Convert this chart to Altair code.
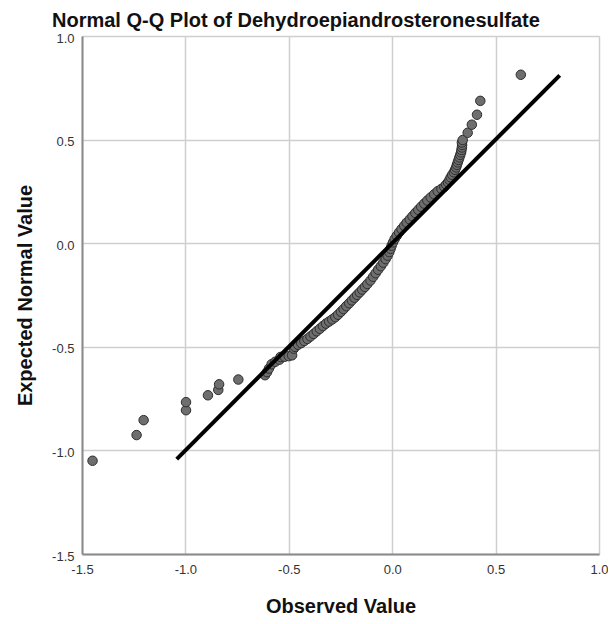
import altair as alt
import pandas as pd

observed = [
    -1.449, -1.236, -1.202, -0.997, -0.997, -0.891, -0.841, -0.837, -0.744,
    -0.615, -0.605, -0.596, -0.583, -0.565, -0.545, -0.540, -0.520, -0.500, -0.484, -0.476,
    -0.470, -0.455, -0.440, -0.425, -0.410, -0.395, -0.380, -0.365, -0.350, -0.335,
    -0.320, -0.305, -0.290, -0.275, -0.262, -0.248, -0.235, -0.222, -0.208, -0.195,
    -0.182, -0.170, -0.157, -0.145, -0.132, -0.120, -0.105, -0.092, -0.080, -0.068,
    -0.055, -0.043, -0.032, -0.022, -0.014, -0.008, -0.003, 0.004,
    0.012, 0.022, 0.033, 0.045, 0.058, 0.070, 0.085, 0.098, 0.112, 0.126,
    0.140, 0.155, 0.170, 0.186, 0.203, 0.220, 0.238, 0.252, 0.261, 0.270,
    0.277, 0.283, 0.290, 0.298, 0.304, 0.309, 0.313, 0.317, 0.321, 0.325,
    0.329, 0.333, 0.335, 0.337, 0.338, 0.337, 0.341, 0.365, 0.385, 0.410,
    0.426, 0.622,
]
expected = [
    -1.050, -0.926, -0.854, -0.806, -0.767, -0.734, -0.708, -0.681, -0.658,
    -0.637, -0.622, -0.605, -0.584, -0.572, -0.562, -0.549, -0.548, -0.545, -0.541, -0.509,
    -0.500, -0.490, -0.482, -0.472, -0.462, -0.450, -0.438, -0.425, -0.413, -0.400,
    -0.388, -0.378, -0.368, -0.357, -0.345, -0.331, -0.318, -0.304, -0.290, -0.276,
    -0.263, -0.250, -0.237, -0.224, -0.211, -0.197, -0.180, -0.162, -0.145, -0.128,
    -0.111, -0.094, -0.077, -0.060, -0.043, -0.027, -0.012, 0.004,
    0.020, 0.036, 0.052, 0.068, 0.084, 0.099, 0.115, 0.130, 0.146, 0.161,
    0.176, 0.191, 0.206, 0.221, 0.236, 0.251, 0.262, 0.272, 0.283, 0.294,
    0.306, 0.318, 0.330, 0.342, 0.354, 0.366, 0.378, 0.390, 0.402, 0.414,
    0.426, 0.438, 0.450, 0.462, 0.474, 0.486, 0.498, 0.533, 0.572, 0.620,
    0.687, 0.813,
]

# Reference line endpoints
line_x = [-1.042, 0.810]
line_y = [-1.042, 0.810]

tick_values = [-1.5, -1.0, -0.5, 0.0, 0.5, 1.0]

pts = pd.DataFrame({"obs": observed, "exp": expected})
ref = pd.DataFrame({"obs": line_x, "exp": line_y})

FONT = "Liberation Sans"
HYPHEN = "replace(datum.label, '\u2212', '-')"

xscale = alt.Scale(domain=[-1.5, 1.0], nice=False, zero=False)
yscale = alt.Scale(domain=[-1.5, 1.0], nice=False, zero=False)

xaxis = alt.Axis(
    title="Observed Value", values=tick_values, format=".1f", labelExpr=HYPHEN,
    titleFontSize=20, titleFontWeight="bold", titleColor="#111111", titleFont=FONT,
    titlePadding=20, labelFontSize=13, labelColor="#333333", labelFont=FONT,
    labelPadding=9, tickSize=0, domainColor="#8a8a8a", domainWidth=2,
    gridColor="#cfcfcf", gridWidth=1.5, labelFlush=False,
)
yaxis = alt.Axis(
    title="Expected Normal Value", values=tick_values, format=".1f", labelExpr=HYPHEN,
    titleFontSize=20, titleFontWeight="bold", titleColor="#111111", titleFont=FONT,
    titlePadding=16, labelFontSize=13, labelColor="#333333", labelFont=FONT,
    labelPadding=8, tickSize=0, domainColor="#8a8a8a", domainWidth=2,
    gridColor="#cfcfcf", gridWidth=1.5, labelFlush=False, labelOffset=2,
)

points = alt.Chart(pts).mark_point(
    filled=True, size=90, fill="#6e6e6e", stroke="#2e2e2e", strokeWidth=1, opacity=1
).encode(
    x=alt.X("obs:Q", scale=xscale, axis=xaxis),
    y=alt.Y("exp:Q", scale=yscale, axis=yaxis),
)

line = alt.Chart(ref).mark_line(color="#000000", strokeWidth=4).encode(
    x=alt.X("obs:Q", scale=xscale),
    y=alt.Y("exp:Q", scale=yscale),
)

chart = alt.layer(points, line).properties(
    width=517,
    height=518,
    title=alt.TitleParams(
        "Normal Q-Q Plot of Dehydroepiandrosteronesulfate",
        anchor="start", frame="group", dx=-30, offset=1, fontSize=20, fontWeight="bold",
        font=FONT, color="#111111",
    ),
    autosize=alt.AutoSizeParams(type="none"),
    padding={"left": 74, "top": 28, "right": 9, "bottom": 62},
).configure_view(
    stroke="#cfcfcf", strokeWidth=1.5
).configure(background="white")

chart.save("out.html", embed_options={"renderer": "svg", "actions": False})
